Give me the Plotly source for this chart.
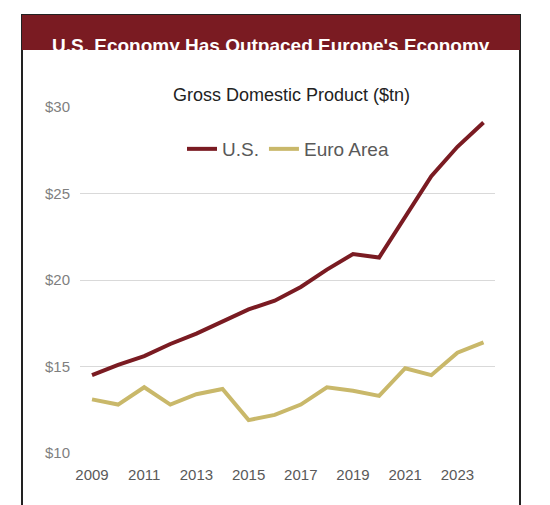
import plotly.graph_objects as go

years = list(range(2009, 2025))
us = [14.5, 15.1, 15.6, 16.3, 16.9, 17.6, 18.3, 18.8, 19.6, 20.6, 21.5, 21.3, 23.7, 26.0, 27.7, 29.1]
euro = [13.1, 12.8, 13.8, 12.8, 13.4, 13.7, 11.9, 12.2, 12.8, 13.8, 13.6, 13.3, 14.9, 14.5, 15.8, 16.4]
yticks = [10, 15, 20, 25, 30]

W, H = 550, 505
L, R, T, B = 72, 63, 99, 60
PW, PH = W - L - R, H - T - B
def fx(x): return (x - L) / PW
def fy(y): return (H - B - y) / PH

fig = go.Figure()
fig.add_trace(go.Scatter(x=years, y=us, name="U.S.", mode="lines",
                         line=dict(color="#7A1B22", width=4)))
fig.add_trace(go.Scatter(x=years, y=euro, name="Euro Area", mode="lines",
                         line=dict(color="#C9B86A", width=4)))

fig.update_layout(
    width=W, height=H, margin=dict(l=L, r=R, t=T, b=B, autoexpand=False),
    paper_bgcolor="white", plot_bgcolor="white",
    font=dict(family="Liberation Sans, Arial", color="#666"),
    xaxis=dict(range=[2008.54, 2024.44], tickvals=years[::2], showgrid=False,
               zeroline=False, tickfont=dict(size=15, color="#595959"),
               ticks="outside", ticklen=8, tickcolor="rgba(0,0,0,0)"),
    yaxis=dict(range=[10, 30], tickvals=yticks, ticktext=[f"${v}" for v in yticks],
               gridcolor="#D9D9D9", gridwidth=1, zeroline=False,
               tickfont=dict(size=15, color="#7f7f7f"),
               ticks="outside", ticklen=6, tickcolor="rgba(0,0,0,0)"),
    legend=dict(orientation="h", x=fx(280), xanchor="center", y=fy(141), yanchor="middle",
                font=dict(size=19, color="#595959",
                          family="Liberation Sans Narrow, Liberation Sans, Arial"),
                bgcolor="rgba(0,0,0,0)"),
    showlegend=True,
)
fig.add_shape(type="rect", xref="paper", yref="paper",
              x0=fx(14), x1=fx(512), y0=fy(498), y1=fy(7),
              line=dict(color="#222", width=2))
fig.add_shape(type="rect", xref="paper", yref="paper",
              x0=fx(14), x1=fx(512), y0=fy(42), y1=fy(7),
              line=dict(width=0), fillcolor="#7A1B22")
fig.add_annotation(text="<b>U.S. Economy Has Outpaced Europe's Economy</b>",
                   xref="paper", yref="paper", x=fx(263), y=fy(24.5), showarrow=False,
                   font=dict(size=19, color="white",
                             family="Liberation Sans Narrow, Liberation Sans, Arial"))
fig.add_annotation(text="Gross Domestic Product ($tn)", xref="paper", yref="paper",
                   x=fx(283), y=fy(75), showarrow=False,
                   font=dict(size=18, color="#222",
                             family="Liberation Sans Narrow, Liberation Sans, Arial"))
fig.write_html("out.html")
